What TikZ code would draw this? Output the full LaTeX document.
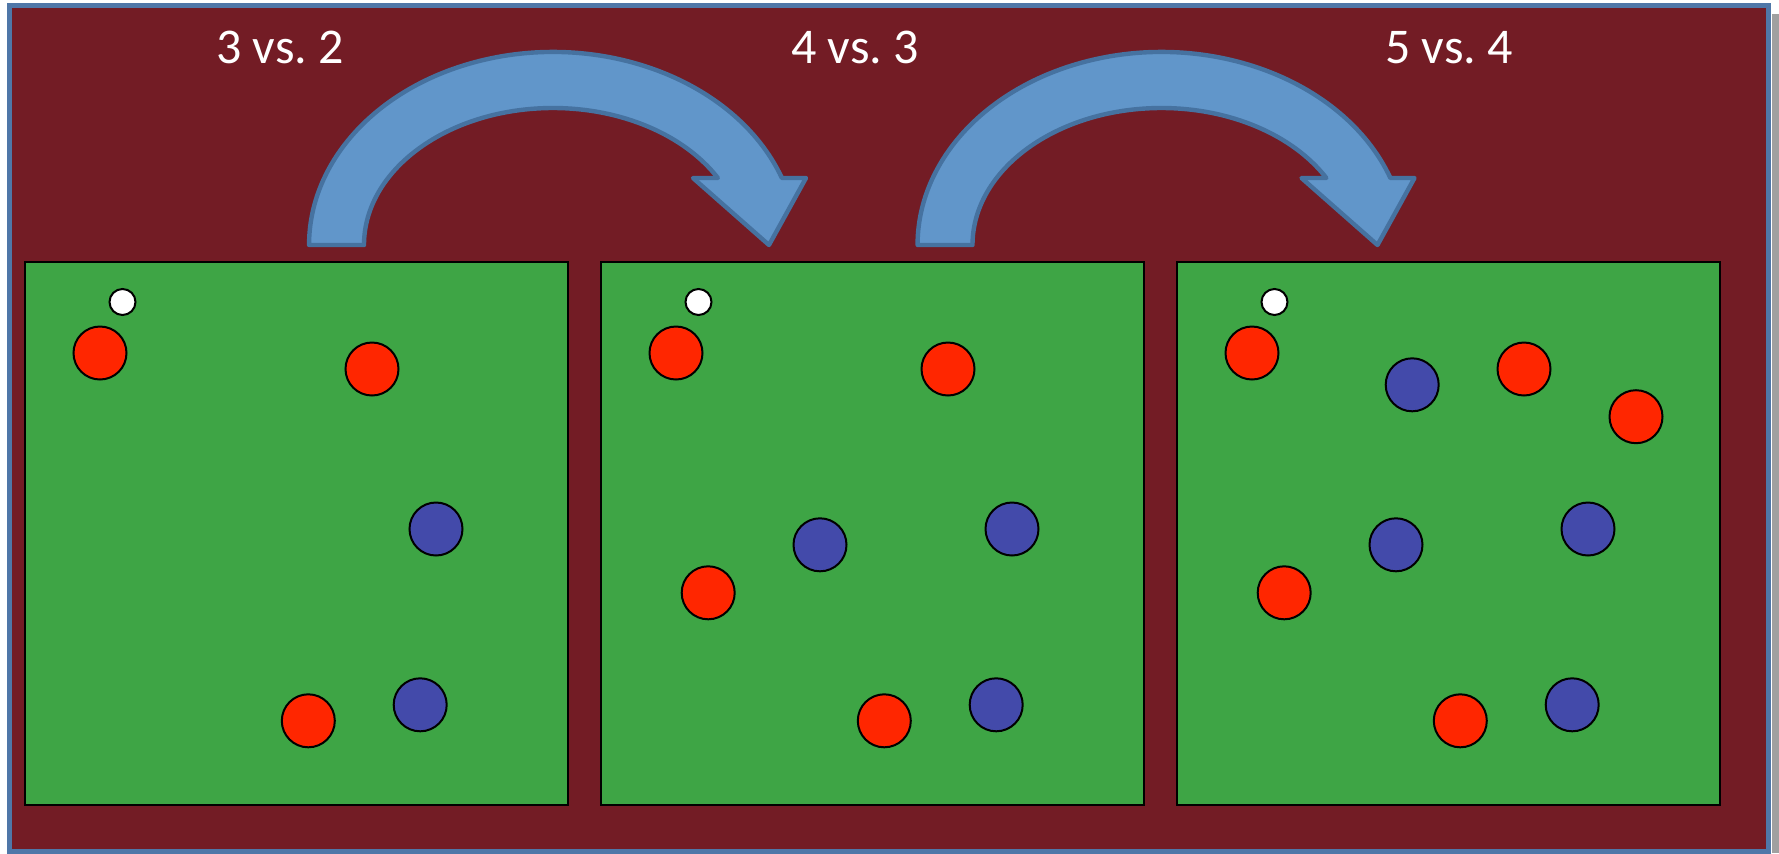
\documentclass[tikz,border=0pt]{standalone}
\usepackage{fontspec}
\setmainfont{Carlito}
\definecolor{bgmaroon}{RGB}{115,28,37}
\definecolor{framblue}{RGB}{79,119,168}
\definecolor{arrowfill}{RGB}{97,150,202}
\definecolor{arrowline}{RGB}{70,114,160}
\definecolor{fieldgreen}{RGB}{62,165,69}
\definecolor{playerred}{RGB}{255,38,0}
\definecolor{playerblue}{RGB}{67,74,170}
\definecolor{shadowgrey}{RGB}{160,160,160}
\begin{document}
\begin{tikzpicture}[x=0.5pt,y=-0.5pt,
  field/.style={draw=black,line width=0.85pt,fill=fieldgreen,minimum width=271.5pt,minimum height=271.5pt,inner sep=0pt,outer sep=0pt,anchor=north west},
  redp/.style={circle,draw=black,line width=1pt,fill=playerred,minimum size=26.5pt,inner sep=0pt},
  bluep/.style={circle,draw=black,line width=1pt,fill=playerblue,minimum size=26.5pt,inner sep=0pt},
  ball/.style={circle,draw=black,line width=1pt,fill=white,minimum size=13pt,inner sep=0pt},
  titletext/.style={text=white,font=\fontsize{25}{30}\selectfont,anchor=base,inner sep=0pt},
  arrowshape/.style={fill=arrowfill,draw=arrowline,line width=2.2pt,line join=round}]
\useasboundingbox (0,0) rectangle (1779,853);
% shadow and frame
\fill[shadowgrey] (1771.5,14) rectangle (1779,853);
\filldraw[fill=bgmaroon,draw=framblue,line width=2.5pt] (9.2,5.8) rectangle (1768.8,851);
% titles
\node[titletext] (t1) at (280,63) {3 vs.\ 2};
\node[titletext] (t2) at (855,63) {4 vs.\ 3};
\node[titletext] (t3) at (1449,63) {5 vs.\ 4};
% curved arrows
\draw[arrowshape] (364,245) arc[start angle=180,end angle=330.7,x radius=189,y radius=137]
  -- (693,178) -- (769,245) -- (806,178) -- (781.9,178)
  arc[start angle=339.7,end angle=180,x radius=244,y radius=193] -- cycle;
\begin{scope}[shift={(608.5,0)}]
\draw[arrowshape] (364,245) arc[start angle=180,end angle=330.7,x radius=189,y radius=137]
  -- (693,178) -- (769,245) -- (806,178) -- (781.9,178)
  arc[start angle=339.7,end angle=180,x radius=244,y radius=193] -- cycle;
\end{scope}
% panel 1
\node[field] (p1) at (25,262) {};
\begin{scope}[shift={(25,262)}]
\node[ball]  (p1w) at (97.5,40) {};
\node[redp]  (p1a) at (75,91) {};
\node[redp]  (p1b) at (347,107) {};
\node[bluep] (p1c) at (411,267) {};
\node[redp]  (p1d) at (283.3,458.8) {};
\node[bluep] (p1e) at (395.2,442.8) {};
\end{scope}
% panel 2
\node[field] (p2) at (601,262) {};
\begin{scope}[shift={(601,262)}]
\node[ball]  (p2w) at (97.5,40) {};
\node[redp]  (p2a) at (75,91) {};
\node[redp]  (p2b) at (347,107) {};
\node[bluep] (p2c) at (411,267) {};
\node[redp]  (p2d) at (283.3,458.8) {};
\node[bluep] (p2e) at (395.2,442.8) {};
\node[bluep] (p2f) at (219,282.8) {};
\node[redp]  (p2g) at (107.2,330.8) {};
\end{scope}
% panel 3
\node[field] (p3) at (1177,262) {};
\begin{scope}[shift={(1177,262)}]
\node[ball]  (p3w) at (97.5,40) {};
\node[redp]  (p3a) at (75,91) {};
\node[redp]  (p3b) at (347,107) {};
\node[bluep] (p3c) at (411,267) {};
\node[redp]  (p3d) at (283.3,458.8) {};
\node[bluep] (p3e) at (395.2,442.8) {};
\node[bluep] (p3f) at (219,282.8) {};
\node[redp]  (p3g) at (107.2,330.8) {};
\node[bluep] (p3h) at (235.2,122.8) {};
\node[redp]  (p3i) at (459,154.7) {};
\end{scope}
\end{tikzpicture}
\end{document}
